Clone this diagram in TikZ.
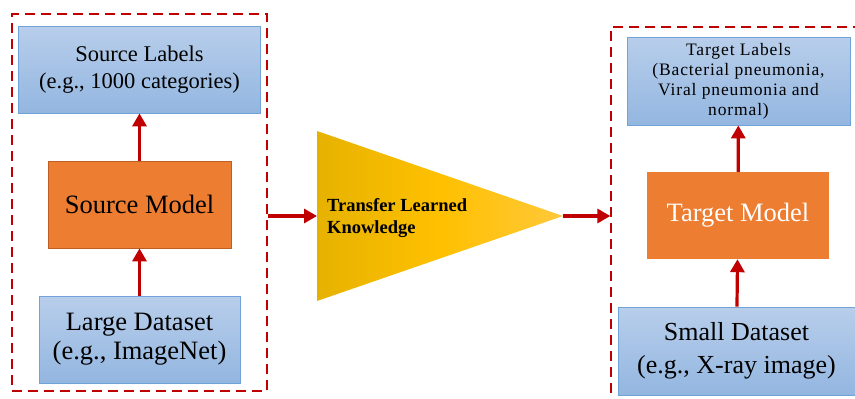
\documentclass[tikz,border=0pt]{standalone}
\usepackage{fontspec}
\setmainfont{Liberation Serif}
\usetikzlibrary{arrows.meta}
\definecolor{arrowred}{HTML}{C00000}
\definecolor{boxtop}{HTML}{B8CEEB}
\definecolor{boxbot}{HTML}{93B6E0}
\definecolor{boxline}{HTML}{6FA3DA}
\definecolor{modelorange}{HTML}{ED7D31}
\definecolor{modeledge}{HTML}{BE5E22}
\definecolor{trileft}{HTML}{E6B200}
\definecolor{trimid}{HTML}{FFC000}
\definecolor{triright}{HTML}{FFC83A}
\tikzset{
  databox/.style={draw=boxline, line width=0.8pt, top color=boxtop, bottom color=boxbot, align=center, inner sep=2pt},
  modelbox/.style={fill=modelorange, align=center},
  groupbox/.style={draw=arrowred, line width=1.3pt, dash pattern=on 10pt off 6pt},
  flow/.style={arrowred, line width=3.2pt, -{Triangle[length=13pt,width=14pt]}}
}
\begin{document}
\begin{tikzpicture}[x=1pt, y=-1pt]
\useasboundingbox (0,0) rectangle (855,399);
% source side
\node[groupbox, minimum width=255pt, minimum height=377pt] (srcgroup) at (139.5,202.5) {};
\node[databox, minimum width=242pt, minimum height=87pt, font=\fontsize{22.5}{27}\selectfont] (srclabels) at (139.5,69.5) {Source Labels\\(e.g., 1000 categories)};
\node[modelbox, draw=modeledge, line width=0.8pt, minimum width=183pt, minimum height=87pt, font=\fontsize{26.5}{30}\selectfont] (srcmodel) at (139.5,204.5) {Source Model};
\node[databox, minimum width=201pt, minimum height=87pt, font=\fontsize{26.5}{29}\selectfont] (srcdata) at (139.5,339.5) {Large Dataset\\(e.g., ImageNet)};
\draw[flow] (srcdata) -- (srcmodel);
\draw[flow] (srcmodel) -- (srclabels);
% transfer triangle
\coordinate (triw) at (317,216);
\coordinate (trie) at (563,216);
\shade[left color=trileft, right color=triright, middle color=trimid] (317,131) -- (trie) -- (317,301) -- cycle;
\node[anchor=west, align=left, font=\bfseries\fontsize{18.5}{22}\selectfont, inner sep=0pt] (transfer) at (327,218) {Transfer Learned\\Knowledge};
% target side
\node[groupbox, minimum width=300pt, minimum height=420pt] (tgtgroup) at (761,237) {};
\node[databox, minimum width=223pt, minimum height=88pt, font=\fontsize{17.5}{20}\selectfont\addfontfeature{LetterSpace=5}] (tgtlabels) at (738.5,81) {Target Labels\\(Bacterial pneumonia,\\Viral pneumonia and\\normal)};
\node[modelbox, text=white, minimum width=182pt, minimum height=87pt, font=\fontsize{26.5}{30}\selectfont] (tgtmodel) at (738,215.5) {Target Model};
\node[databox, minimum width=237pt, minimum height=88pt, font=\fontsize{26}{33}\selectfont] (tgtdata) at (736.5,351) {Small Dataset\\(e.g., X-ray image)};
\draw[flow] (tgtdata) -- (tgtmodel);
\draw[flow] (tgtmodel) -- (tgtlabels);
% links between parts
\draw[flow] (srcgroup.east |- triw) -- (triw);
\draw[flow] (trie) -- (tgtgroup.west |- trie);
\end{tikzpicture}
\end{document}
